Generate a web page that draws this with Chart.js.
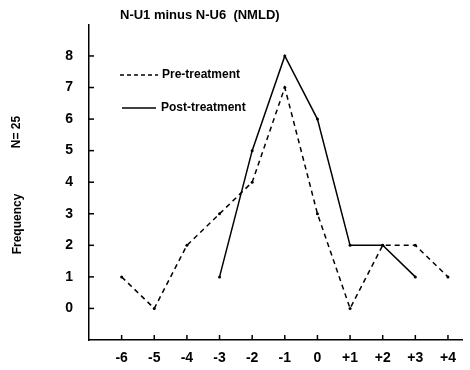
<!DOCTYPE html>
<html>
<head>
<meta charset="utf-8">
<script src="https://cdn.jsdelivr.net/npm/chart.js@4.4.0/dist/chart.umd.min.js"></script>
<style>
  html, body { margin: 0; padding: 0; background: #fff; }
  #wrap { width: 470px; height: 370px; }
</style>
</head>
<body>
<div id="wrap"><canvas id="freqChart" width="470" height="370"></canvas></div>
<script>
// difference scores on the x axis
const diffValues = [-6, -5, -4, -3, -2, -1, 0, 1, 2, 3, 4];
const preTreatment = [1, 0, 2, 3, 4, 7, 3, 0, 2, 2, 1];
const postTreatment = [null, null, null, 1, 5, 8, 6, 2, 2, 1, null];
const yTickValues = [0, 1, 2, 3, 4, 5, 6, 7, 8];
const chartTitle = 'N-U1 minus N-U6  (NMLD)';
const seriesNames = ['Pre-treatment', 'Post-treatment'];
const yAxisTitle = 'Frequency';
const sampleNote = 'N= 25';

const FONT = '"Liberation Sans", Arial, sans-serif';

const toPoints = (vals) => diffValues.map((x, i) => ({ x: x, y: vals[i] }));

// draws the title, legend, side notes and the small inward ticks
const extras = {
    id: 'extras',
    afterDraw(chart) {
        const ctx = chart.ctx;
        const xs = chart.scales.x;
        const ys = chart.scales.y;
        ctx.save();
        ctx.strokeStyle = '#000';
        ctx.lineWidth = 1.5;
        // inward ticks
        diffValues.forEach((v) => {
            const px = xs.getPixelForValue(v);
            ctx.beginPath();
            ctx.moveTo(px, xs.top);
            ctx.lineTo(px, xs.top - 5);
            ctx.stroke();
        });
        yTickValues.forEach((v) => {
            const py = ys.getPixelForValue(v);
            ctx.beginPath();
            ctx.moveTo(ys.right, py);
            ctx.lineTo(ys.right + 5, py);
            ctx.stroke();
        });

        ctx.fillStyle = '#000';
        ctx.textBaseline = 'middle';
        ctx.font = '600 13px ' + FONT;
        ctx.textAlign = 'left';
        ctx.fillText(chartTitle, 120, 15);

        // legend
        ctx.lineWidth = 1.5;
        ctx.setLineDash([4, 3]);
        ctx.beginPath();
        ctx.moveTo(120, 75);
        ctx.lineTo(158, 75);
        ctx.stroke();
        ctx.setLineDash([]);
        ctx.beginPath();
        ctx.moveTo(122, 108);
        ctx.lineTo(156, 108);
        ctx.stroke();
        ctx.font = '600 12px ' + FONT;
        ctx.fillText(seriesNames[0], 162, 75);
        ctx.fillText(seriesNames[1], 161, 108);

        // rotated side texts
        ctx.font = '600 12px ' + FONT;
        ctx.textAlign = 'center';
        ctx.translate(18, 224);
        ctx.rotate(-Math.PI / 2);
        ctx.fillText(yAxisTitle, 0, 0);
        ctx.rotate(Math.PI / 2);
        ctx.translate(-1, 132 - 224);
        ctx.rotate(-Math.PI / 2);
        ctx.font = '600 12px ' + FONT;
        ctx.fillText(sampleNote, 0, 0);
        ctx.restore();
    }
};

new Chart(document.getElementById('freqChart').getContext('2d'), {
    type: 'line',
    data: {
        datasets: [
            {
                label: seriesNames[0],
                data: toPoints(preTreatment),
                borderColor: '#000',
                backgroundColor: '#000',
                borderWidth: 1.5,
                borderDash: [5, 4],
                pointRadius: 1.5,
                pointBorderWidth: 0,
                tension: 0,
            },
            {
                label: seriesNames[1],
                data: toPoints(postTreatment),
                borderColor: '#000',
                backgroundColor: '#000',
                borderWidth: 1.5,
                pointRadius: 1.5,
                pointBorderWidth: 0,
                tension: 0,
                spanGaps: false,
            },
        ],
    },
    options: {
        responsive: false,
        animation: false,
        layout: { padding: { top: 8, right: 8, left: 0, bottom: 0 } },
        plugins: {
            legend: { display: false },
            title: { display: false },
            tooltip: { enabled: false },
        },
        scales: {
            x: {
                type: 'linear',
                min: -7,
                max: 4.43,
                grid: { display: false, drawTicks: false },
                border: { display: true, color: '#000', width: 1.5 },
                afterBuildTicks: (s) => { s.ticks = diffValues.map((v) => ({ value: v })); },
                afterFit: (s) => { s.height = 30; },
                ticks: {
                    color: '#000',
                    padding: 10,
                    maxRotation: 0,
                    font: { family: FONT, size: 14, weight: '600' },
                    callback: (v) => (v > 0 ? '+' + v : String(v)),
                },
            },
            y: {
                min: -1,
                max: 9,
                grid: { display: false, drawTicks: false },
                border: { display: true, color: '#000', width: 1.5 },
                afterBuildTicks: (s) => { s.ticks = yTickValues.map((v) => ({ value: v })); },
                afterFit: (s) => { s.width = 89; },
                ticks: {
                    color: '#000',
                    padding: 16,
                    font: { family: FONT, size: 14, weight: '600' },
                },
            },
        },
    },
    plugins: [extras],
});
</script>
</body>
</html>
